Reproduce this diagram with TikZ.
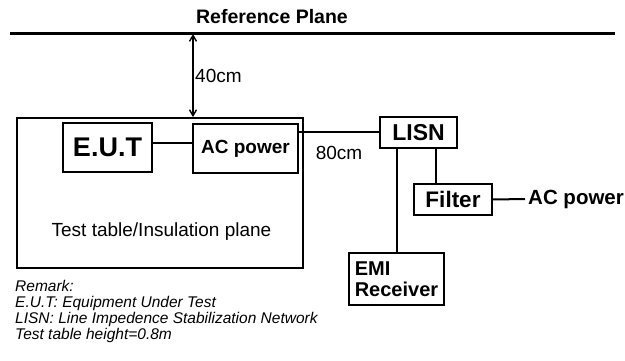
\documentclass[tikz,border=0pt]{standalone}
\usepackage{fontspec}
\setmainfont{Liberation Sans}
\usetikzlibrary{arrows.meta, positioning, calc}

\begin{document}
\begin{tikzpicture}[
    x=1pt, y=-1pt,
    unit/.style={rectangle, draw=black, line width=2pt, inner sep=0pt,
                 align=center, font=\fontsize{19}{21}\selectfont\bfseries},
    table/.style={rectangle, draw=black, line width=1.8pt, inner sep=0pt},
    wire/.style={draw=black, line width=2pt},
    label/.style={font=\fontsize{19}{21}\selectfont, inner sep=2pt},
    arrow/.style={{Straight Barb[length=6pt,width=7pt]}-{Straight Barb[length=6pt,width=7pt]},
                  line width=1.4pt},
]
\useasboundingbox (0,0) rectangle (625,361);

% Reference plane
\node[font=\fontsize{19.5}{21}\selectfont\bfseries] (refplane) at (272,17) {Reference Plane};
\coordinate (pleft) at (10,34);
\coordinate (pright) at (615,34);
\draw[line width=3pt] (pleft) -- (pright);

% --- Test table ---
\node[table, minimum width=286, minimum height=150] (table) at (160,193) {};
\node[label] (tabletext) at (161.5,232) {Test table/Insulation plane};
\node[unit, line width=2.6pt, minimum width=89, minimum height=49,
      font=\fontsize{27}{29}\selectfont\bfseries] (eut) at (107.5,147.5) {E.U.T};
\node[unit, line width=1.6pt, minimum width=105, minimum height=49] (acpwr) at (245.5,148.5) {AC power};

% 40cm distance
\coordinate (armtop) at (193,34);
\draw[arrow] (armtop) -- (armtop |- table.north);
\node[label, anchor=west] (dist40) at (193,76) {40cm};

% --- LISN side ---
\node[unit, minimum width=77, minimum height=31,
      font=\fontsize{23}{25}\selectfont\bfseries] (lisn) at (418.5,132.5) {LISN};
\node[label] (dist80) at (339,153) {80cm};
\node[unit, minimum width=78, minimum height=31,
      font=\fontsize{22.5}{24}\selectfont\bfseries] (filter) at (453,199.5) {Filter};
\node[font=\fontsize{20.5}{22}\selectfont\bfseries, anchor=west, inner sep=3pt] (acin) at (525,199) {AC power};
\node[unit, line width=2.6pt, minimum width=95, minimum height=52, align=left,
      font=\fontsize{20}{21}\selectfont\bfseries] (emi) at (396.5,279) {EMI\\Receiver};

% Remark
\node[anchor=north west, align=left, inner sep=0pt,
      font=\fontsize{15.5}{16}\selectfont\itshape] (remark) at (15,280)
  {Remark:\\E.U.T: Equipment Under Test\\LISN: Line Impedence Stabilization Network\\Test table height=0.8m};

% --- Wires ---
\draw[wire] (eut.east |- 0,143) -- (acpwr.west |- 0,143);
\draw[wire] (lisn.west) -- (lisn.west -| acpwr.east);
\draw[wire] (emi.north |- lisn.south) -- (emi.north);
\draw[wire] ([xshift=-22pt]lisn.south east) -- ([xshift=-22pt]lisn.south east |- filter.north);
\draw[wire] (filter.east) -- (acin.west);

\end{tikzpicture}
\end{document}
